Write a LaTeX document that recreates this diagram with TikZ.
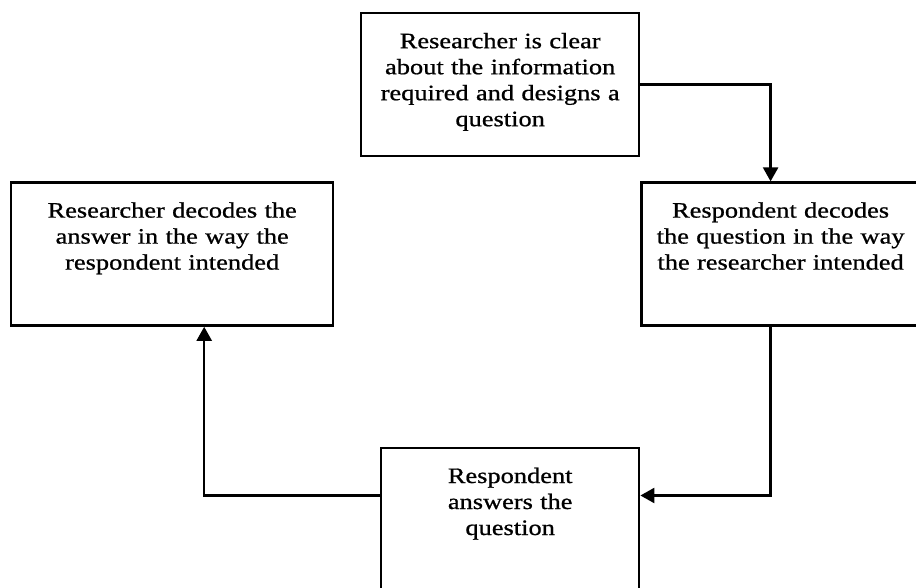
\documentclass[tikz,border=0pt]{standalone}
\usepackage{fontspec}
\setmainfont{Liberation Serif}[FakeStretch=1.2, FakeBold=0.8]
\usetikzlibrary{arrows.meta}
\usetikzlibrary{positioning}

\begin{document}
\begin{tikzpicture}[>={Triangle[length=7pt,width=7.5pt]}, line width=1.2pt,
    stage/.style={draw, align=center, inner sep=0pt, text height=17.5pt,
      text depth=54pt, font=\fontsize{11}{13}\selectfont}]
      \useasboundingbox (0,0) rectangle (458pt,-294pt);

      \node[stage, text width=139pt, anchor=north west] (design) at (180pt,-6pt)
           {Researcher is clear\\ about the information\\
            required and designs a\\ question};
      \node[stage, text width=139pt, below right=12pt and 0pt of design] (decode-q)
           {Respondent decodes\\ the question in the way\\
            the researcher intended};
      \node[stage, text width=129pt, below left=60pt and 0pt of decode-q] (answer)
           {Respondent\\ answers the\\ question};
      \node[stage, text width=161pt, left=153pt of decode-q] (decode-a)
           {Researcher decodes the\\ answer in the way the\\
            respondent intended};

      \draw[->] (design) -| ([xshift=-5pt]decode-q.north);
      \draw[->] ([xshift=-5pt]decode-q.south) |- ([yshift=12pt]answer.east);
      \draw[->] ([yshift=12pt]answer.west) -| ([xshift=16pt]decode-a.south);
    \end{tikzpicture}
\end{document}
